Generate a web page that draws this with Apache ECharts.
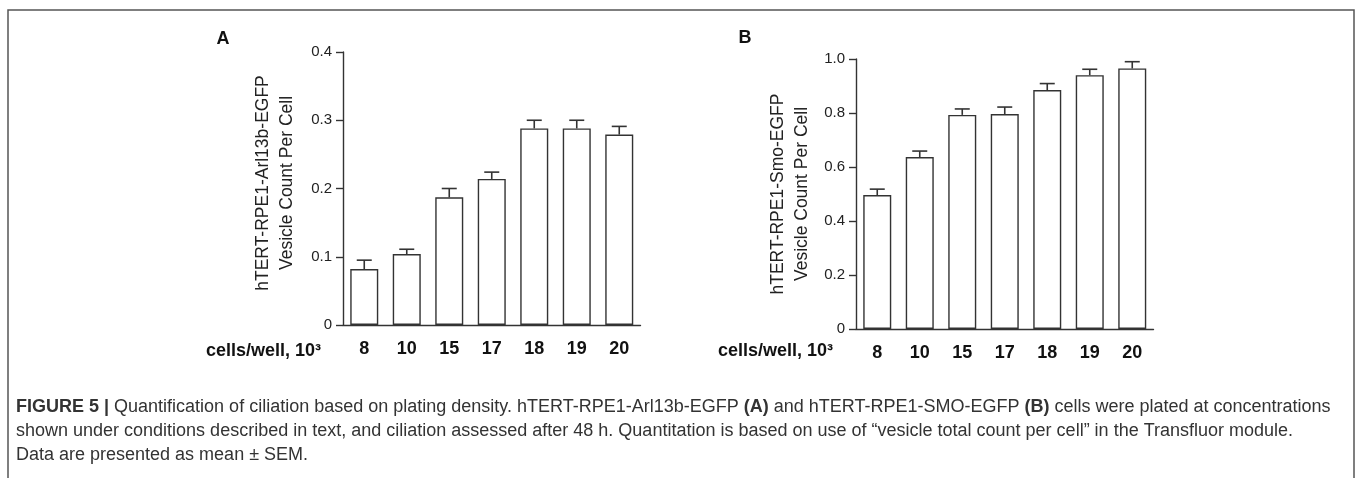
<!DOCTYPE html>
<html>
<head>
    <meta charset="utf-8">
    <title>Figure 5</title>
    <script src="https://cdn.jsdelivr.net/npm/echarts@6/dist/echarts.min.js"></script>
    <style>
        html, body { margin: 0; padding: 0; background: #fff; }
        #main { width: 1358px; height: 478px; }
    </style>
</head>
<body>
    <div id="main"></div>
    <script type="text/javascript">
        // cells/well, 10^3
        var categories = ['8', '10', '15', '17', '18', '19', '20'];
        // panel A: hTERT-RPE1-Arl13b-EGFP
        var arlMean = [0.082, 0.104, 0.187, 0.214, 0.288, 0.288, 0.279];
        var arlSem = [0.013, 0.007, 0.013, 0.010, 0.012, 0.012, 0.012];
        // panel B: hTERT-RPE1-Smo-EGFP
        var smoMean = [0.496, 0.637, 0.793, 0.796, 0.885, 0.940, 0.965];
        var smoSem = [0.022, 0.022, 0.022, 0.026, 0.024, 0.022, 0.025];

        var arlTicks = { min: 0, max: 0.4, interval: 0.1 };
        var smoTicks = { min: 0, max: 1.0, interval: 0.2 };

        var FONT = 'Liberation Sans, Arial, sans-serif';
        var INK = '#222';

        var chart = echarts.init(document.getElementById('main'), null, { renderer: 'canvas' });

        function errData(mean, sem) {
            return mean.map(function (m, i) { return [i, m, m + sem[i]]; });
        }

        // SEM drawn upward only: stem from bar top + cap
        function renderErr(params, api) {
            var top = api.coord([api.value(0), api.value(1)]);
            var cap = api.coord([api.value(0), api.value(2)]);
            var hw = 7.5;
            return {
                type: 'group',
                children: [{
                    type: 'line',
                    shape: { x1: top[0], y1: top[1], x2: cap[0], y2: cap[1] },
                    style: { stroke: '#333', lineWidth: 1.6 }
                }, {
                    type: 'line',
                    shape: { x1: cap[0] - hw, y1: cap[1], x2: cap[0] + hw, y2: cap[1] },
                    style: { stroke: '#333', lineWidth: 1.6 }
                }]
            };
        }

        function xAxisOf(gi) {
            return {
                type: 'category',
                gridIndex: gi,
                data: categories,
                axisLine: { lineStyle: { color: '#333', width: 1.4 } },
                axisTick: { alignWithLabel: true, length: 7, lineStyle: { color: '#333', width: 1.4 } },
                axisLabel: { color: '#111', fontSize: 18, fontWeight: 'bold', fontFamily: FONT, margin: 15 },
                splitLine: { show: false }
            };
        }

        function yAxisOf(gi, t) {
            return {
                type: 'value',
                gridIndex: gi,
                min: t.min, max: t.max, interval: t.interval,
                axisLine: { show: true, lineStyle: { color: '#333', width: 1.4 } },
                axisTick: { show: true, length: 7, lineStyle: { color: '#333', width: 1.4 } },
                axisLabel: {
                    color: INK, fontSize: 15, fontFamily: FONT, margin: 11,
                    formatter: function (v) { return v === 0 ? '0' : v.toFixed(1); }
                },
                splitLine: { show: false }
            };
        }

        function yName(x, y, txt) {
            return {
                type: 'text', x: x, y: y, rotation: Math.PI / 2,
                style: {
                    text: txt, fill: INK, font: '17.5px ' + FONT,
                    align: 'center', verticalAlign: 'middle', lineHeight: 24
                }
            };
        }

        var capStyle = { fill: '#333', font: '18px ' + FONT, rich: { b: { fontWeight: 'bold', fill: '#333', fontSize: 18, fontFamily: FONT } } };

        var option = {
            animation: false,
            grid: [
                { left: 343, top: 52, width: 297.5, height: 273 },
                { left: 856, top: 59, width: 297.5, height: 270 }
            ],
            xAxis: [xAxisOf(0), xAxisOf(1)],
            yAxis: [yAxisOf(0, arlTicks), yAxisOf(1, smoTicks)],
            series: [{
                type: 'bar', xAxisIndex: 0, yAxisIndex: 0, data: arlMean, barWidth: 28,
                itemStyle: { color: '#fff', borderColor: '#333', borderWidth: 1.4 }
            }, {
                type: 'custom', xAxisIndex: 0, yAxisIndex: 0, data: errData(arlMean, arlSem),
                renderItem: renderErr, z: 3
            }, {
                type: 'bar', xAxisIndex: 1, yAxisIndex: 1, data: smoMean, barWidth: 28,
                itemStyle: { color: '#fff', borderColor: '#333', borderWidth: 1.4 }
            }, {
                type: 'custom', xAxisIndex: 1, yAxisIndex: 1, data: errData(smoMean, smoSem),
                renderItem: renderErr, z: 3
            }],
            graphic: [
                // frame
                { type: 'polyline', shape: { points: [[8, 478], [8, 10], [1354, 10], [1354, 478]] },
                  style: { stroke: '#555', lineWidth: 1.5, fill: null } },
                // panel letters
                { type: 'text', x: 223, y: 39, style: { text: 'A', fill: '#111', font: 'bold 18px ' + FONT, align: 'center', verticalAlign: 'middle' } },
                { type: 'text', x: 745, y: 38, style: { text: 'B', fill: '#111', font: 'bold 18px ' + FONT, align: 'center', verticalAlign: 'middle' } },
                // y axis titles
                yName(275, 183, 'hTERT-RPE1-Arl13b-EGFP\nVesicle Count Per Cell'),
                yName(790, 194, 'hTERT-RPE1-Smo-EGFP\nVesicle Count Per Cell'),
                // x axis titles
                { type: 'text', x: 321, y: 351, style: { text: 'cells/well, 10³', fill: '#111', font: 'bold 18px ' + FONT, align: 'right', verticalAlign: 'middle' } },
                { type: 'text', x: 833, y: 351, style: { text: 'cells/well, 10³', fill: '#111', font: 'bold 18px ' + FONT, align: 'right', verticalAlign: 'middle' } },
                // caption
                { type: 'text', x: 16, y: 407, style: Object.assign({ verticalAlign: 'middle',
                    text: '{b|FIGURE 5 |} Quantification of ciliation based on plating density. hTERT-RPE1-Arl13b-EGFP {b|(A)} and hTERT-RPE1-SMO-EGFP {b|(B)} cells were plated at concentrations' }, capStyle) },
                { type: 'text', x: 16, y: 431, style: Object.assign({ verticalAlign: 'middle',
                    text: 'shown under conditions described in text, and ciliation assessed after 48 h. Quantitation is based on use of “vesicle total count per cell” in the Transfluor module.' }, capStyle) },
                { type: 'text', x: 16, y: 455, style: Object.assign({ verticalAlign: 'middle',
                    text: 'Data are presented as mean ± SEM.' }, capStyle) }
            ]
        };

        chart.setOption(option);
    </script>
</body>
</html>
